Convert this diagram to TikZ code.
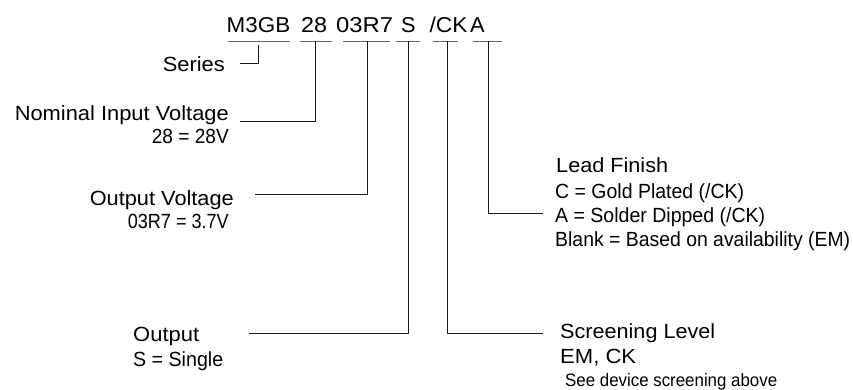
\documentclass[tikz,border=0pt]{standalone}
\usepackage{fontspec}
\usepackage{graphicx}
\setmainfont{Liberation Sans}
\newcommand{\fitw}[2]{\resizebox{#1pt}{\height}{#2}}
\begin{document}
\begin{tikzpicture}[x=1pt,y=-1pt,
  code/.style={font=\fontsize{21.5}{26}\selectfont, inner sep=0pt, anchor=base west},
  lbl/.style={font=\fontsize{20.5}{24}\selectfont, inner sep=0pt},
  small/.style={font=\fontsize{18}{20}\selectfont, inner sep=0pt},
  ul/.style={line width=0.8pt, black!60},
  conn/.style={line width=0.8pt, black!90}]
\useasboundingbox (0,0) rectangle (853,390);
% part number pieces
\node[code] (pM) at (226.5,33) {\fitw{63.5}{M3GB}};
\node[code] (p28) at (301,33) {\fitw{26}{28}};
\node[code] (pV) at (336,33) {\fitw{57}{03R7}};
\node[code] (pS) at (401,33) {\fitw{14.5}{S}};
\node[code] (pCK) at (429.3,33) {\fitw{38}{/CK}};
\node[code] (pA) at (470,33) {\fitw{14.5}{A}};
% underlines
\draw[ul] (228,41) -- (290,41);
\draw[ul] (300,41) -- (332,41);
\draw[ul] (343,41) -- (390,41);
\draw[ul] (396,41) -- (420,41);
\draw[ul] (433,41) -- (458,41);
\draw[ul] (473,41) -- (502,41);
% connector start points on underlines
\coordinate (tM) at (258,45);
\coordinate (t28) at (315,41);
\coordinate (tV) at (367,41);
\coordinate (tS) at (408.5,41);
\coordinate (tCK) at (447.5,41);
\coordinate (tA) at (488,41);
% labels
\node[lbl, anchor=base east] (series) at (225,72) {\fitw{62}{Series}};
\node[lbl, anchor=base east] (nom) at (229,121) {\fitw{214}{Nominal Input Voltage}};
\node[lbl, anchor=base east] (nom2) at (229,144) {\fitw{77}{28 = 28V}};
\node[lbl, anchor=base east] (ov) at (234,205) {\fitw{144}{Output Voltage}};
\node[lbl, anchor=base east] (ov2) at (229,228) {\fitw{101}{03R7 = 3.7V}};
\node[lbl, anchor=base west] (out) at (133,341) {\fitw{66}{Output}};
\node[lbl, anchor=base west] (out2) at (133,366) {\fitw{90}{S = Single}};
\node[lbl, anchor=base west] (scr) at (560,338) {\fitw{155}{Screening Level}};
\node[lbl, anchor=base west] (scr2) at (560,363) {\fitw{76}{EM, CK}};
\node[small, anchor=base west] (scr3) at (565,386) {\fitw{212}{See device screening above}};
\node[lbl, anchor=base west] (lf) at (556,173) {\fitw{112}{Lead Finish}};
\node[lbl, anchor=base west] (lf1) at (555,198) {\fitw{189}{C = Gold Plated (/CK)}};
\node[lbl, anchor=base west] (lf2) at (555,222) {\fitw{210}{A = Solder Dipped (/CK)}};
\node[lbl, anchor=base west] (lf3) at (555,246) {\fitw{295}{Blank = Based on availability (EM)}};
% connector free ends
\coordinate (eSeries) at (240,63);
\coordinate (eNom) at (240,121);
\coordinate (eOV) at (255,194);
\coordinate (eOut) at (249,333);
\coordinate (eScr) at (543,333);
\coordinate (eLF) at (543,213);
% connectors
\draw[conn] (eSeries) -| (tM);
\draw[conn] (eNom) -| (t28);
\draw[conn] (eOV) -| (tV);
\draw[conn] (eOut) -| (tS);
\draw[conn] (eScr) -| (tCK);
\draw[conn] (eLF) -| (tA);
\end{tikzpicture}
\end{document}
